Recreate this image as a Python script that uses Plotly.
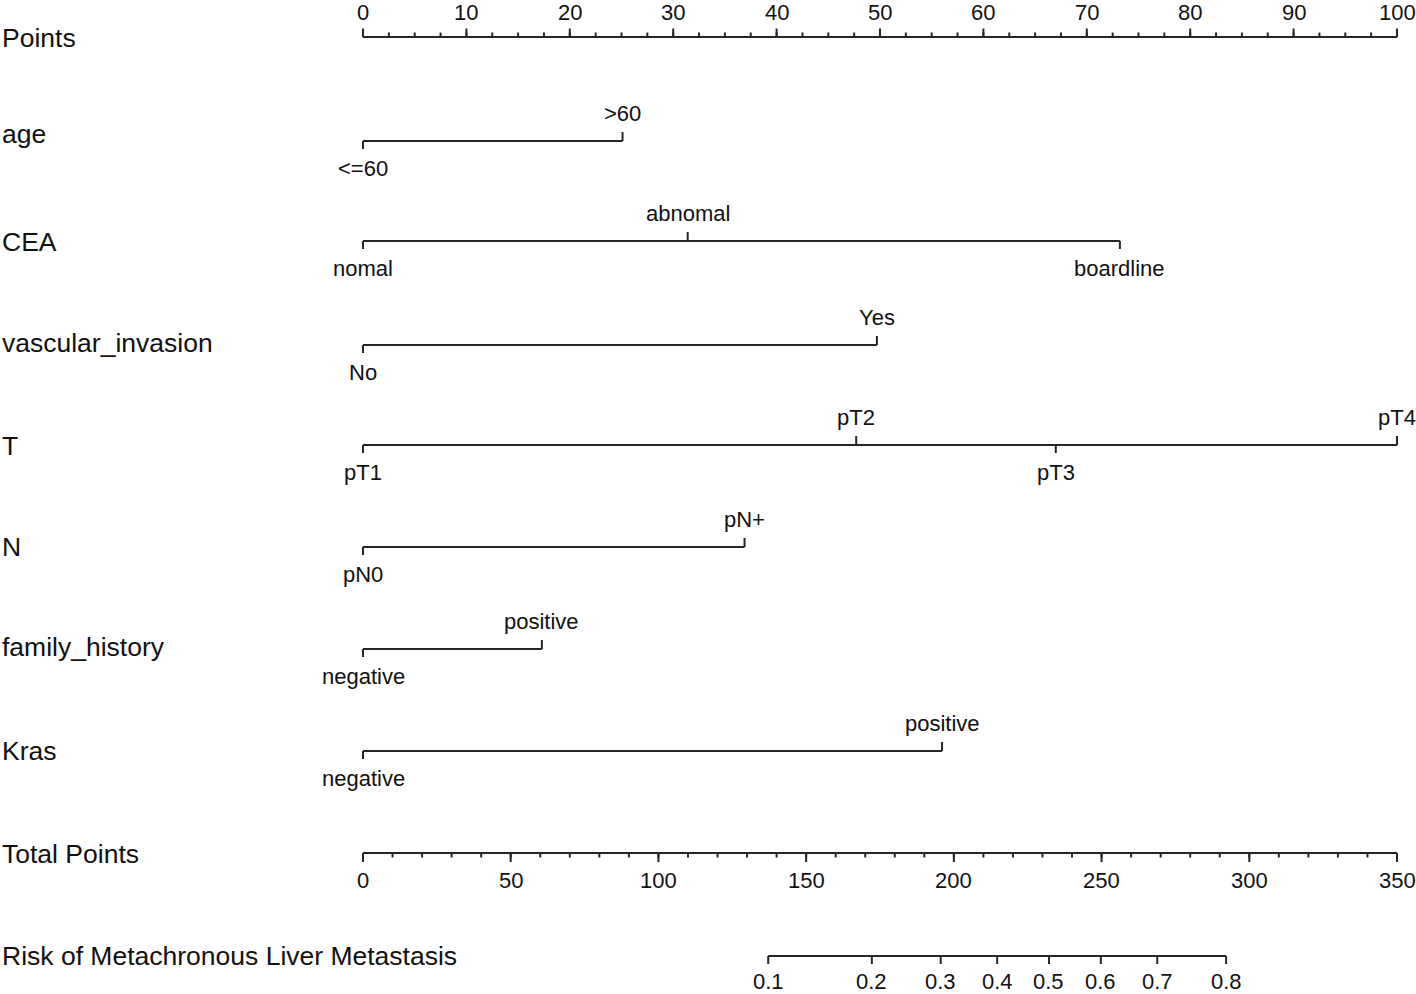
import math
import plotly.graph_objects as go

# ---------------- data ----------------
points_major = list(range(0, 101, 10))
points_minor = [i * 2.5 for i in range(0, 41)]

variables = ["age", "CEA", "vascular_invasion", "T", "N", "family_history", "Kras"]
age_levels = ["<=60", ">60"]
age_points = [0, 25.1]
cea_levels = ["nomal", "abnomal", "boardline"]
cea_points = [0, 31.4, 73.2]
vasc_levels = ["No", "Yes"]
vasc_points = [0, 49.7]
t_levels = ["pT1", "pT2", "pT3", "pT4"]
t_points = [0, 47.7, 67.0, 100]
n_levels = ["pN0", "pN+"]
n_points = [0, 36.9]
fh_levels = ["negative", "positive"]
fh_points = [0, 17.3]
kras_levels = ["negative", "positive"]
kras_points = [0, 56.0]

total_major = list(range(0, 351, 50))
total_minor = list(range(0, 351, 10))
total_max = 350

risk_ticks = [0.1, 0.2, 0.3, 0.4, 0.5, 0.6, 0.7, 0.8]
risk_tp_at_half = 232.2      # total points where risk = 0.5
risk_tp_per_logit = 43.25    # total points per unit of log-odds

# ---------------- layout constants ----------------
W, H = 1416, 994
PX0, PX_PER_PT = 363.0, 10.34       # pixel of 0 points, pixels per point
LINE_C = "#262626"
TEXT_C = "#111111"
FONT = "Liberation Sans, Arial, sans-serif"
NAME_SIZE = 26.5
TICK_SIZE = 22

def px2x(px):
    return (px - PX0) / PX_PER_PT

row_y = {"Points": 37, "age": 141, "CEA": 241, "vascular_invasion": 345, "T": 445,
         "N": 547, "family_history": 649, "Kras": 751, "Total Points": 853,
         "Risk": 956}
name_y = {"Points": 38, "age": 134, "CEA": 242, "vascular_invasion": 343, "T": 446,
          "N": 547, "family_history": 647, "Kras": 751, "Total Points": 854,
          "Risk": 956}

levels = {"age": (age_levels, age_points), "CEA": (cea_levels, cea_points),
          "vascular_invasion": (vasc_levels, vasc_points), "T": (t_levels, t_points),
          "N": (n_levels, n_points), "family_history": (fh_levels, fh_points),
          "Kras": (kras_levels, kras_points)}

xs, ys = [], []
annotations = []

def seg(x0, y0, x1, y1):
    xs.extend([x0, x1, None])
    ys.extend([y0, y1, None])

def text(x, y, s, size, xanchor="center"):
    annotations.append(dict(x=x, y=y, xref="x", yref="y", text=s, showarrow=False,
                            xanchor=xanchor, yanchor="middle", borderpad=0,
                            font=dict(family=FONT, size=size, color=TEXT_C)))

NAME_X = px2x(1)

# Points axis
y = row_y["Points"]
seg(points_major[0], y, points_major[-1], y)
for v in points_minor:
    seg(v, y, v, y - 4.5)
for v in points_major:
    seg(v, y, v, y - 8.5)
    text(v, 12, str(v), TICK_SIZE)
text(NAME_X, name_y["Points"], "Points", NAME_SIZE, "left")

# Variables
for var in variables:
    labs, pts = levels[var]
    y = row_y[var]
    seg(min(pts), y, max(pts), y)
    for i, (lab, p) in enumerate(zip(labs, pts)):
        if i % 2 == 0:
            seg(p, y, p, y + 8)
            text(p, y + 27, lab, TICK_SIZE)
        else:
            seg(p, y, p, y - 9)
            text(p, y - 28, lab, TICK_SIZE)
    text(NAME_X, name_y[var], var, NAME_SIZE, "left")

# Total points axis
def tp2x(tp):
    return tp * 100.0 / total_max

y = row_y["Total Points"]
seg(tp2x(total_major[0]), y, tp2x(total_major[-1]), y)
for v in total_minor:
    seg(tp2x(v), y, tp2x(v), y + 4.5)
for v in total_major:
    seg(tp2x(v), y, tp2x(v), y + 9)
    text(tp2x(v), 880, str(v), TICK_SIZE)
text(NAME_X, name_y["Total Points"], "Total Points", NAME_SIZE, "left")

# Risk axis
def risk2x(p):
    lp = math.log(p / (1 - p))
    return tp2x(risk_tp_at_half + risk_tp_per_logit * lp)

y = row_y["Risk"]
seg(risk2x(risk_ticks[0]), y, risk2x(risk_ticks[-1]), y)
for p in risk_ticks:
    seg(risk2x(p), y, risk2x(p), y + 8)
    text(risk2x(p), 981.5, f"{p:.1f}", TICK_SIZE)
text(NAME_X, name_y["Risk"], "Risk of Metachronous Liver Metastasis", NAME_SIZE, "left")

fig = go.Figure(go.Scatter(x=xs, y=ys, mode="lines",
                           line=dict(color=LINE_C, width=2),
                           hoverinfo="skip", showlegend=False))
fig.update_layout(
    width=W, height=H, margin=dict(l=0, r=0, t=0, b=0),
    paper_bgcolor="white", plot_bgcolor="white",
    xaxis=dict(range=[px2x(0), px2x(W)], visible=False, fixedrange=True),
    yaxis=dict(range=[H, 0], visible=False, fixedrange=True),
    annotations=annotations, showlegend=False,
)
fig.write_html(
    "out.html",
    config={"displayModeBar": False},
    post_script="document.body.style.margin='0';document.body.style.padding='0';"
                "document.body.style.overflow='hidden';",
)
